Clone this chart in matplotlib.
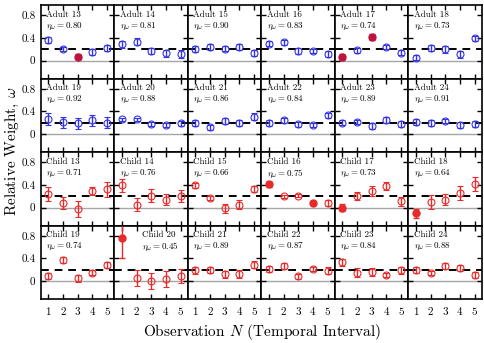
import numpy as np
import matplotlib
matplotlib.use("Agg")
from matplotlib import pyplot as plt
from matplotlib.ticker import FuncFormatter

plt.rcParams['font.family'] = 'cmr10'
plt.rcParams['mathtext.fontset'] = 'cm'
plt.rcParams['axes.formatter.use_mathtext'] = True

# ---------------- data ----------------
obs = [1, 2, 3, 4, 5]

adult_ids = [13, 14, 15, 16, 17, 18, 19, 20, 21, 22, 23, 24]
adult_eta = [0.80, 0.81, 0.90, 0.83, 0.74, 0.73, 0.92, 0.88, 0.86, 0.84, 0.89, 0.91]
adult_w = [
    [0.36, 0.20, 0.07, 0.15, 0.22],
    [0.29, 0.33, 0.17, 0.13, 0.11],
    [0.20, 0.24, 0.21, 0.24, 0.13],
    [0.30, 0.32, 0.17, 0.17, 0.12],
    [0.06, 0.18, 0.42, 0.24, 0.14],
    [0.05, 0.22, 0.20, 0.11, 0.39],
    [0.27, 0.21, 0.19, 0.24, 0.20],
    [0.26, 0.26, 0.18, 0.16, 0.19],
    [0.20, 0.12, 0.23, 0.20, 0.31],
    [0.20, 0.24, 0.17, 0.16, 0.33],
    [0.20, 0.21, 0.14, 0.25, 0.18],
    [0.21, 0.20, 0.23, 0.16, 0.18],
]
adult_err = [
    [0.05, 0.04, 0.04, 0.05, 0.05],
    [0.06, 0.06, 0.05, 0.06, 0.07],
    [0.05, 0.05, 0.04, 0.05, 0.05],
    [0.04, 0.05, 0.05, 0.04, 0.05],
    [0.05, 0.04, 0.05, 0.04, 0.05],
    [0.04, 0.05, 0.06, 0.06, 0.05],
    [0.11, 0.10, 0.10, 0.10, 0.10],
    [0.03, 0.03, 0.04, 0.04, 0.04],
    [0.05, 0.04, 0.05, 0.05, 0.06],
    [0.05, 0.05, 0.04, 0.04, 0.05],
    [0.04, 0.04, 0.05, 0.05, 0.05],
    [0.05, 0.05, 0.04, 0.05, 0.05],
]
adult_filled = [(0, 2), (4, 0), (4, 2)]

child_ids = [13, 14, 15, 16, 17, 18, 19, 20, 21, 22, 23, 24]
child_eta = [0.71, 0.76, 0.66, 0.75, 0.73, 0.64, 0.74, 0.45, 0.89, 0.87, 0.84, 0.88]
child_w = [
    [0.24, 0.08, -0.02, 0.30, 0.32],
    [0.39, 0.05, 0.21, 0.14, 0.20],
    [0.39, 0.17, -0.01, 0.05, 0.33],
    [0.41, 0.20, 0.21, 0.08, 0.08],
    [0.00, 0.21, 0.29, 0.38, 0.11],
    [-0.10, 0.10, 0.14, 0.26, 0.42],
    [0.09, 0.37, 0.05, 0.15, 0.28],
    [0.76, 0.06, 0.00, 0.03, 0.09],
    [0.19, 0.19, 0.12, 0.13, 0.29],
    [0.21, 0.27, 0.08, 0.21, 0.18],
    [0.33, 0.15, 0.16, 0.11, 0.19],
    [0.19, 0.14, 0.27, 0.23, 0.11],
]
child_err = [
    [0.12, 0.11, 0.14, 0.07, 0.13],
    [0.12, 0.12, 0.11, 0.10, 0.11],
    [0.05, 0.04, 0.08, 0.08, 0.05],
    [0.04, 0.03, 0.03, 0.04, 0.05],
    [0.06, 0.07, 0.09, 0.07, 0.08],
    [0.08, 0.13, 0.10, 0.12, 0.12],
    [0.06, 0.05, 0.06, 0.05, 0.05],
    [0.36, 0.14, 0.15, 0.14, 0.12],
    [0.06, 0.05, 0.06, 0.07, 0.06],
    [0.05, 0.05, 0.04, 0.04, 0.06],
    [0.06, 0.08, 0.07, 0.04, 0.06],
    [0.05, 0.04, 0.05, 0.05, 0.05],
]
child_filled = [(3, 0), (3, 3), (4, 0), (5, 0), (7, 0)]

blue = '#3434e6'
red = '#e82a2a'
crimson = '#c0123e'

fig, axes = plt.subplots(4, 6, figsize=(4.85, 3.43), dpi=100, sharex=True, sharey=True)
fig.subplots_adjust(left=0.0845, right=0.9938, top=0.985, bottom=0.128,
                    wspace=0, hspace=0)

for k, ax in enumerate(axes.flat):
    if k < 12:
        j = k
        label = 'Adult %d' % adult_ids[j]
        eta, w, e = adult_eta[j], adult_w[j], adult_err[j]
        col, fcol = blue, crimson
        filled = [i for (p, i) in adult_filled if p == j]
    else:
        j = k - 12
        label = 'Child %d' % child_ids[j]
        eta, w, e = child_eta[j], child_w[j], child_err[j]
        col, fcol = red, red
        filled = [i for (p, i) in child_filled if p == j]

    ax.axhline(0, color='0.65', lw=1.0, zorder=1)
    ax.axhline(0.2, color='k', ls=(0, (4, 3)), lw=1.4, zorder=1)

    for i in range(5):
        if i in filled:
            ax.errorbar(obs[i], w[i], yerr=e[i], fmt='o', ms=5, mfc=fcol, mec=fcol,
                        ecolor=fcol, elinewidth=1, capsize=2.5, capthick=1, zorder=3)
        else:
            ax.errorbar(obs[i], w[i], yerr=e[i], fmt='o', ms=5, mfc='none', mec=col,
                        mew=0.8, ecolor=col, elinewidth=1, capsize=2.5, capthick=1,
                        zorder=3)

    tx = 0.38 if label == 'Child 20' else 0.07
    ax.text(tx, 0.93, label, transform=ax.transAxes, fontsize=6.5, va='top', ha='left')
    ax.text(tx, 0.79, r'$\eta_\omega = %.2f$' % eta, transform=ax.transAxes,
            fontsize=6.5, va='top', ha='left')

    ax.set_xlim(0.5, 5.5)
    ax.set_ylim(-0.32, 0.98)
    ax.set_xticks(obs)
    ax.set_yticks([0, 0.4, 0.8])
    ax.tick_params(direction='in', top=True, right=True, length=3.5, width=1,
                   labelsize=8, pad=4)
    for s in ax.spines.values():
        s.set_linewidth(1.2)

axes[0, 0].yaxis.set_major_formatter(
    FuncFormatter(lambda v, p: '0' if abs(v) < 1e-9 else '%.1f' % v))

fig.text(0.54, 0.033, r'Observation $N$ (Temporal Interval)', ha='center',
         va='center', fontsize=11)
fig.text(0.025, 0.56, r'Relative Weight, $\omega$', ha='center', va='center',
         rotation=90, fontsize=11)

fig.savefig('out.png', dpi=100)
